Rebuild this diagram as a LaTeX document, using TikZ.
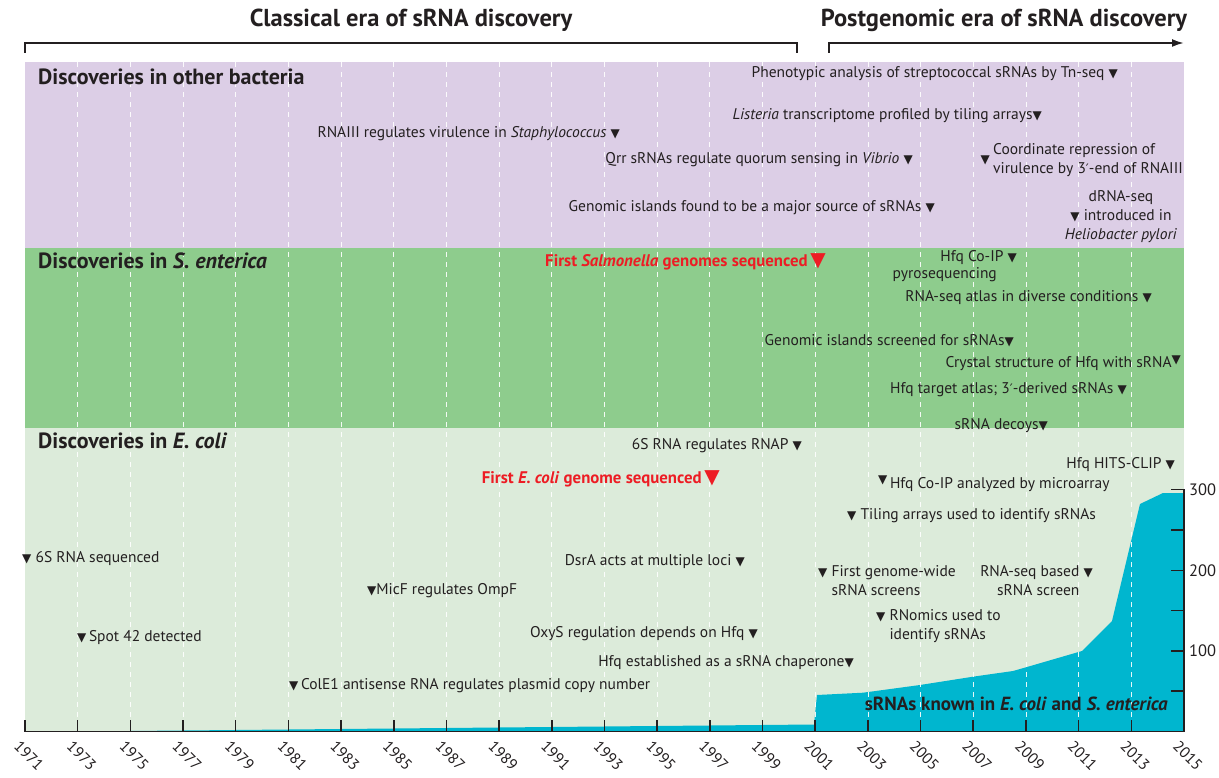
\documentclass[tikz,border=0pt]{standalone}
\usepackage{fontspec}
\setmainfont{PT Sans}
\newfontfamily\symfont{DejaVu Sans}
\usetikzlibrary{arrows.meta,positioning}
\definecolor{BactPurple}{RGB}{220,206,230}
\definecolor{EntGreen}{RGB}{142,204,141}
\definecolor{ColiGreen}{RGB}{220,235,218}
\definecolor{KnownCyan}{RGB}{0,182,207}
\definecolor{GenomeRed}{RGB}{237,28,36}
\definecolor{InkGray}{RGB}{35,31,32}
\newcommand{\dn}{{\symfont\fontsize{12}{12}\selectfont ▼}}
\newcommand{\bigdn}{{\symfont\fontsize{20}{20}\selectfont ▼}}
\newcommand{\prm}{{\symfont\fontsize{13}{13}\selectfont ′}}
\newcommand{\yx}[1]{25+26.34*(#1-1971)}
\tikzset{
  ev/.style={font=\fontsize{15.5}{19}\selectfont, text=InkGray, inner sep=0pt},
  evl/.style={ev, anchor=west},
  evr/.style={ev, anchor=east},
  genome/.style={font=\fontsize{16.8}{18}\selectfont\bfseries, text=GenomeRed,
                 inner sep=0pt, anchor=east},
  bandtitle/.style={font=\fontsize{22}{24}\selectfont\bfseries, text=InkGray,
                    inner sep=0pt, anchor=west},
  era/.style={font=\fontsize{24.5}{26}\selectfont\bfseries, text=InkGray, inner sep=0pt},
  yearlab/.style={font=\fontsize{15.5}{15.5}\selectfont, text=InkGray, rotate=-45, inner sep=0pt},
  grid/.style={white, line width=0.7pt, dash pattern=on 5pt off 5pt, opacity=0.9},
  axisline/.style={InkGray, line width=1.5pt},
  bracket/.style={InkGray, line width=2pt}
}
\begin{document}
\begin{tikzpicture}[x=1pt,y=-1pt]
\useasboundingbox (0,0) rectangle (1219,778);
% bands
\fill[BactPurple] (25,62) rectangle (1184,248);
\fill[EntGreen] (25,248) rectangle (1184,428);
\fill[ColiGreen] (25,428) rectangle (1184,731.5);
% sRNAs known
\fill[KnownCyan] (77.7,731.5) -- (814,724.5) -- (817,695) -- (863,692.7) -- (920,685)
  -- (973,676.7) -- (1013,671) -- (1027,667) -- (1082,651) -- (1112,621) -- (1140,504)
  -- (1163,493) -- (1184,493) -- (1184,731.5) -- cycle;
\foreach \y in {1973,1975,...,2013}
  \draw[grid] ({\yx{\y}},62) -- ({\yx{\y}},731.5);
% axes
\draw[axisline] (25,731.5) -- (1184,731.5) -- (1184,489);
\foreach \y in {1971,1973,...,2015}{
  \draw[axisline] ({\yx{\y}},731.5) -- ++(0,-12);
  \node[yearlab] (yr\y) at ({\yx{\y}+4},756) {\y};
}
\foreach \v in {50,100,...,300}
  \draw[axisline] (1184,{731.5-0.806*\v}) -- ++(-13,0);
\foreach \v in {100,200,300}
  \node[font=\fontsize{16.5}{16.5}\selectfont, text=InkGray, anchor=west, inner sep=0pt]
    (cnt\v) at (1189,{731.5-0.806*\v}) {\v};
% eras
\draw[bracket] (25,53) -- (25,43) -- (797,43) -- (797,53);
\draw[bracket,-{Latex[length=12pt,width=8pt]}] (829,53) -- (829,43) -- (1184,43);
\node[era] (classical) at (411,20) {Classical era of sRNA discovery};
\node[era] (postgen) at (1004,20) {Postgenomic era of sRNA discovery};
% band titles
\node[bandtitle] (otherbact) at (38,77) {Discoveries in other bacteria};
\node[bandtitle] (senterica) at (38,261) {Discoveries in \textit{S. enterica}};
\node[bandtitle] (ecoli) at (38,441) {Discoveries in \textit{E. coli}};
% other bacteria
\node[evr] (tnseq) at (1118,74) {Phenotypic analysis of streptococcal sRNAs by Tn-seq \dn};
\node[evr] (listeria) at (1042,116) {\textit{Listeria} transcriptome profiled by tiling arrays\dn};
\node[evr] (rnaiii) at (620,134) {RNAIII regulates virulence in \textit{Staphylococcus} \dn};
\node[evr] (qrr) at (913,160) {Qrr sRNAs regulate quorum sensing in \textit{Vibrio} \dn};
\node[evl, align=left] (coord3) at (993,160) {Coordinate repression of\\virulence by 3\prm-end of RNAIII};
\node[evr, left=3pt of coord3] (coord3m) {\dn};
\node[evr] (gislands) at (935,208) {Genomic islands found to be a major source of sRNAs \dn};
\node[ev, align=center] (drnaseq) at (1121,217) {dRNA-seq\\\dn\ introduced in\\\textit{Heliobacter pylori}};
% S. enterica
\node[genome] (salmgen) at (826,262) {First \textit{Salmonella} genomes sequenced\,\bigdn};
\node[evr] (coipseq) at (1017,258) {Hfq Co-IP \dn};
\node[evr] (pyro) at (997,275) {pyrosequencing};
\node[evr] (atlas) at (1152,298) {RNA-seq atlas in diverse conditions \dn};
\node[evr] (gscreen) at (1014,341) {Genomic islands screened for sRNAs\dn};
\node[evr] (crystal) at (1181,364) {Crystal structure of Hfq with sRNA\raisebox{4pt}[0pt][0pt]{\dn}};
\node[evr] (target) at (1127,390) {Hfq target atlas; 3\prm-derived sRNAs \dn};
\node[evr] (decoys) at (1048,426) {sRNA decoys\dn};
% E. coli
\node[evr] (rnap) at (802,446) {6S RNA regulates RNAP \dn};
\node[genome] (coligen) at (720,479) {First \textit{E. coli} genome sequenced\,\bigdn};
\node[evr] (hitsclip) at (1175,465) {Hfq HITS-CLIP \dn};
\node[evl] (microarr) at (878,485) {\raisebox{5pt}[0pt][0pt]{\dn}\,Hfq Co-IP analyzed by microarray};
\node[evl] (tilarr) at (847,516) {\dn\ Tiling arrays used to identify sRNAs};
\node[evl] (seq6s) at (22,559) {\dn\ 6S RNA sequenced};
\node[evr] (dsra) at (745,562) {DsrA acts at multiple loci \dn};
\node[evl, align=left] (gwide) at (818,581) {\dn\ First genome-wide\\\phantom{\dn\ }sRNA screens};
\node[evr, align=right] (seqscr) at (1093,581) {RNA-seq based \dn\\sRNA screen\phantom{ \dn}};
\node[evl] (micf) at (367,591) {\dn MicF regulates OmpF};
\node[evl, align=left] (rnomics) at (876,626) {\dn\ RNomics used to\\\phantom{\dn\ }identify sRNAs};
\node[evl] (spot42) at (77,638) {\dn\,Spot 42 detected};
\node[evr] (oxys) at (758,634) {OxyS regulation depends on Hfq \dn};
\node[evr] (chaperone) at (854,663) {Hfq established as a sRNA chaperone\dn};
\node[evl] (cole1) at (289,686) {\dn\,ColE1 antisense RNA regulates plasmid copy number};
\node[font=\fontsize{19}{20}\selectfont\bfseries, text=InkGray, inner sep=0pt, anchor=east]
  (known) at (1168,704) {sRNAs known in \textit{E. coli} and \textit{S. enterica}};
\end{tikzpicture}
\end{document}
